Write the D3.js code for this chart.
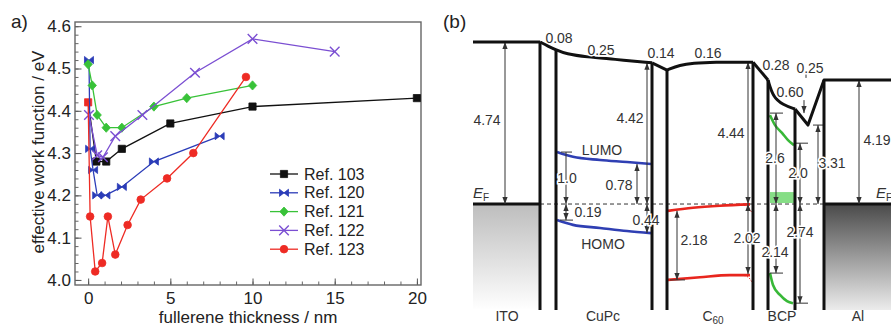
<!DOCTYPE html>
<html>
<head>
<meta charset="utf-8">
<script src="https://cdn.jsdelivr.net/npm/d3@7"></script>
<style>
body { margin: 0; background: #fff; }
svg { display: block; font-family: "Liberation Sans", Arial, sans-serif; }
</style>
</head>
<body>
<script>
// ---------- panel a data ----------
const refNames = ["Ref. 103", "Ref. 120", "Ref. 121", "Ref. 122", "Ref. 123"];
const refColors = ["#111111", "#2b3cb8", "#38c238", "#7b4fd2", "#ee2b24"];
const refShapes = ["square", "bowtie", "diamond", "cross", "circle"];

const ref103X = [0, 0.5, 1.1, 2.05, 5.0, 10, 20];
const ref103Y = [4.42, 4.28, 4.28, 4.31, 4.37, 4.41, 4.43];
const ref120X = [0.05, 0.12, 0.3, 0.55, 1.05, 2.05, 4.0, 8.0];
const ref120Y = [4.52, 4.31, 4.26, 4.20, 4.20, 4.22, 4.28, 4.34];
const ref121X = [0, 0.25, 0.55, 1.1, 2.05, 4.0, 6.0, 10];
const ref121Y = [4.51, 4.46, 4.39, 4.36, 4.36, 4.41, 4.43, 4.46];
const ref122X = [0.05, 0.55, 0.9, 1.65, 3.3, 6.5, 10, 15];
const ref122Y = [4.39, 4.295, 4.29, 4.34, 4.39, 4.49, 4.57, 4.54];
const ref123X = [0, 0.12, 0.43, 0.85, 1.2, 1.65, 2.4, 3.2, 4.8, 6.4, 9.6];
const ref123Y = [4.42, 4.15, 4.02, 4.04, 4.15, 4.06, 4.13, 4.19, 4.24, 4.30, 4.48];

const xTicks = [0, 5, 10, 15, 20];
const yTicks = [4.0, 4.1, 4.2, 4.3, 4.4, 4.5, 4.6];

// ---------- panel b data (schematic energies, E_F = 0) ----------
const layerNames = ["ITO", "CuPc", "C", "BCP", "Al"];
const layerCenters = [34, 130, 240, 309, 385];
const edgeX = [67, 83, 179, 194, 280, 295, 322, 351];
const edgeTop = [4.74, 4.51, 4.13, 3.92, 4.15, 3.63, 2.78, 3.63];
const vacuumSegs = [
    { smooth: false, pts: [[0, 4.74], [67, 4.74]] },
    { smooth: true, pts: [[67, 4.74], [75, 4.62], [83, 4.51], [93, 4.39], [114, 4.30], [140, 4.24], [179, 4.13]] },
    { smooth: false, pts: [[179, 4.13], [194, 3.92]] },
    { smooth: true, pts: [[194, 3.92], [207, 4.07], [220, 4.12], [240, 4.15], [280, 4.15]] },
    { smooth: false, pts: [[280, 4.15], [295, 3.63]] },
    { smooth: true, pts: [[295, 3.63], [300, 3.13], [310, 2.90], [322, 2.78]] },
    { smooth: false, pts: [[322, 2.78], [335, 2.31], [351, 3.63], [418, 3.63]] }
];
const cupcLumo = [[84, 1.52], [100, 1.38], [127, 1.29], [154, 1.23], [178, 1.17]];
const cupcHomo = [[84, -0.47], [100, -0.61], [127, -0.70], [154, -0.79], [178, -0.85]];
const c60Lumo = [[195, -0.2], [220, -0.11], [247, -0.05], [277, -0.01]];
const c60LumoTail = [[271, -0.03], [276, -0.12], [279, -0.26]];
const c60Homo = [[195, -2.22], [227, -2.14], [257, -2.08], [277, -2.08]];
const c60HomoTail = [[271, -2.09], [276, -2.16], [279, -2.28]];
const bcpUpper = [[297, 2.60], [302, 2.31], [309, 2.08], [315, 1.87], [321, 1.72]];
const bcpLower = [[297, -2.02], [300, -2.37], [307, -2.66], [314, -2.84], [320, -2.90]];

// arrows: x, from, to, heads (2 = both ends, 1 = end only)
const arrowX = [32, 174, 164, 174, 93, 93, 204, 275, 275, 303, 327, 303, 327, 345, 386, 331];
const arrowFrom = [4.74, 4.13, 1.17, 0, 1.52, 0, -0.2, 4.15, 0, 2.66, 1.78, 0, 0, 2.31, 3.63, 3.04];
const arrowTo = [0, 0, 0, -0.85, 0, -0.47, -2.22, 0, -2.05, 0, 0, -2.02, -2.90, 0, 0, 2.66];
const arrowHeads = [2, 2, 2, 2, 1, 2, 2, 2, 2, 2, 2, 2, 2, 2, 2, 1];
const barX1 = [88, 87, 197, 297, 322, 297, 322, 340];
const barX2 = [99, 100, 212, 310, 335, 310, 335, 351];
const barE = [1.52, -0.47, -2.22, 2.66, 1.78, -2.02, -2.90, 2.31];

const labelText = ["0.08", "0.25", "0.14", "0.16", "0.28", "0.25", "0.60", "4.74", "4.42", "LUMO", "1.0", "0.78",
    "0.19", "0.44", "HOMO", "4.44", "2.18", "2.02", "2.6", "2.0", "3.31", "2.14", "2.74", "4.19"];
const labelX = [86, 128, 188, 235, 303, 337, 317, 14, 157, 129, 94, 146,
    115, 173, 130, 258, 221, 274, 302, 325, 359, 302, 327, 404];
const labelE = [4.71, 4.36, 4.27, 4.27, 3.92, 3.83, 3.13, 2.31, 2.37, 1.43, 0.61, 0.41,
    -0.38, -0.61, -1.32, 1.93, -1.20, -1.14, 1.20, 0.76, 1.05, -1.55, -0.97, 1.73];

// ---------- svg ----------
const svg = d3.select("body").append("svg")
    .attr("width", 891)
    .attr("height", 327);

// ================= panel a =================
const x = d3.scaleLinear().domain([-0.8, 20.25]).range([75, 421]);
const y = d3.scaleLinear().domain([3.988, 4.61]).range([285, 22]);

svg.append("text").attr("x", 11).attr("y", 28)
    .style("font-size", "19px").attr("fill", "#222").text("a)");

// minor ticks
svg.append("g").attr("transform", "translate(0,285)")
    .call(d3.axisBottom(x).tickValues(d3.range(0, 21, 1)).tickSize(-3.5).tickFormat(""))
    .call(g => g.select(".domain").remove())
    .selectAll("line").attr("stroke", "#666");
svg.append("g").attr("transform", "translate(75,0)")
    .call(d3.axisLeft(y).tickValues(d3.range(4.0, 4.61, 0.02)).tickSize(-3.5).tickFormat(""))
    .call(g => g.select(".domain").remove())
    .selectAll("line").attr("stroke", "#666");

// major ticks
const xAxis = svg.append("g").attr("transform", "translate(0,285)")
    .call(d3.axisBottom(x).tickValues(xTicks).tickSize(-6.5).tickPadding(7))
    .call(g => g.select(".domain").remove());
xAxis.selectAll("line").attr("stroke", "#555");
xAxis.selectAll("text").style("font-size", "17px").attr("fill", "#222")
    .style("font-family", "'Liberation Sans', Arial, sans-serif");

const yAxis = svg.append("g").attr("transform", "translate(75,0)")
    .call(d3.axisLeft(y).tickValues(yTicks).tickSize(-6.5).tickPadding(4).tickFormat(d3.format(".1f")))
    .call(g => g.select(".domain").remove());
yAxis.selectAll("line").attr("stroke", "#555");
yAxis.selectAll("text").style("font-size", "17px").attr("fill", "#222")
    .style("font-family", "'Liberation Sans', Arial, sans-serif");

// frame
svg.append("rect")
    .attr("x", x(-0.8)).attr("y", y(4.61))
    .attr("width", x(20.25) - x(-0.8)).attr("height", y(3.988) - y(4.61))
    .attr("fill", "none").attr("stroke", "#666").attr("stroke-width", 1.4);

// axis titles
svg.append("text").attr("x", 248).attr("y", 323).attr("text-anchor", "middle")
    .style("font-size", "17px").attr("fill", "#222").text("fullerene thickness / nm");
svg.append("text").attr("transform", "translate(44,152) rotate(-90)").attr("text-anchor", "middle")
    .style("font-size", "17px").attr("fill", "#222").text("effective work function / eV");

const shapePath = {
    square: "M-3.6,-3.6h7.2v7.2h-7.2z",
    diamond: "M0,-4.6L4.2,0L0,4.6L-4.2,0Z",
    bowtie: "M-4.5,-3.6L4.5,3.6L4.5,-3.6L-4.5,3.6Z",
    cross: "M-4.8,-4.8L4.8,4.8M-4.8,4.8L4.8,-4.8",
    circle: d3.symbol(d3.symbolCircle, 46)()
};

const seriesX = [ref103X, ref120X, ref121X, ref122X, ref123X];
const seriesY = [ref103Y, ref120Y, ref121Y, ref122Y, ref123Y];
const line = d3.line().x(d => x(d[0])).y(d => y(d[1]));

refNames.forEach((name, i) => {
    const pts = seriesX[i].map((v, j) => [v, seriesY[i][j]]);
    const col = refColors[i];
    svg.append("path").datum(pts)
        .attr("d", line)
        .attr("fill", "none").attr("stroke", col).attr("stroke-width", 1.3);
    // the shared start point of Ref. 103 / Ref. 123 is shown as a red square
    const shown = i === 4 ? pts.slice(1) : pts;
    svg.append("g").selectAll("path")
        .data(shown)
        .join("path")
        .attr("transform", d => `translate(${x(d[0])},${y(d[1])})`)
        .attr("d", shapePath[refShapes[i]])
        .attr("fill", (d, j) => refShapes[i] === "cross" ? "none" : (i === 0 && j === 0 ? refColors[4] : col))
        .attr("stroke", (d, j) => i === 0 && j === 0 ? refColors[4] : col)
        .attr("stroke-width", refShapes[i] === "cross" ? 1.4 : 0.8);
});

// legend
const legend = svg.append("g");
refNames.forEach((name, i) => {
    const ly = 174 + i * 18.8;
    legend.append("line").attr("x1", 270).attr("x2", 298).attr("y1", ly).attr("y2", ly)
        .attr("stroke", refColors[i]).attr("stroke-width", 1.3);
    legend.append("path").attr("transform", `translate(284,${ly})`)
        .attr("d", shapePath[refShapes[i]])
        .attr("fill", refShapes[i] === "cross" ? "none" : refColors[i])
        .attr("stroke", refColors[i]).attr("stroke-width", refShapes[i] === "cross" ? 1.4 : 0.8);
    legend.append("text").attr("x", 304).attr("y", ly + 5.5)
        .style("font-size", "16px").attr("fill", "#222").text(name);
});

// ================= panel b =================
const bx = d3.scaleLinear().domain([0, 418]).range([473, 891]);
const by = d3.scaleLinear().domain([-3.1, 4.74]).range([310, 42]);
const bLine = d3.line().x(d => bx(d[0])).y(d => by(d[1]));
const bSmooth = d3.line().x(d => bx(d[0])).y(d => by(d[1])).curve(d3.curveMonotoneX);
const bBasis = d3.line().x(d => bx(d[0])).y(d => by(d[1])).curve(d3.curveBasis);

svg.append("text").attr("x", 443).attr("y", 28)
    .style("font-size", "19px").attr("fill", "#222").text("(b)");

const defs = svg.append("defs");
const gITO = defs.append("linearGradient").attr("id", "gITO").attr("x1", 0).attr("y1", 0).attr("x2", 0).attr("y2", 1);
gITO.append("stop").attr("offset", "0%").attr("stop-color", "#bdbdbd");
gITO.append("stop").attr("offset", "100%").attr("stop-color", "#ffffff");
const gAl = defs.append("linearGradient").attr("id", "gAl").attr("x1", 0).attr("y1", 0).attr("x2", 0).attr("y2", 1);
gAl.append("stop").attr("offset", "0%").attr("stop-color", "#4a4a4a");
gAl.append("stop").attr("offset", "100%").attr("stop-color", "#ececec");
defs.append("marker").attr("id", "ah").attr("viewBox", "0 0 8 6")
    .attr("refX", 8).attr("refY", 3).attr("markerWidth", 7).attr("markerHeight", 5.5)
    .attr("markerUnits", "userSpaceOnUse").attr("orient", "auto-start-reverse")
    .append("path").attr("d", "M0,0L8,3L0,6Z").attr("fill", "#333");

// electrodes below E_F
svg.append("rect").attr("x", bx(0)).attr("y", by(0)).attr("width", bx(67) - bx(0))
    .attr("height", by(-3.1) - by(0)).attr("fill", "url(#gITO)");
svg.append("rect").attr("x", bx(351)).attr("y", by(0)).attr("width", bx(418) - bx(351))
    .attr("height", by(-3.1) - by(0)).attr("fill", "url(#gAl)");

// green region in BCP
svg.append("rect").attr("x", bx(297)).attr("y", by(0.35)).attr("width", bx(322) - bx(297))
    .attr("height", by(0.03) - by(0.35)).attr("fill", "#86de86");

// Fermi level
svg.append("line").attr("x1", bx(67)).attr("x2", bx(351)).attr("y1", by(0)).attr("y2", by(0))
    .attr("stroke", "#333").attr("stroke-width", 1).attr("stroke-dasharray", "4,3");
svg.append("path").datum([[0, 0], [67, 0]]).attr("d", bLine)
    .attr("stroke", "#111").attr("stroke-width", 3).attr("fill", "none");
svg.append("path").datum([[351, 0], [418, 0]]).attr("d", bLine)
    .attr("stroke", "#111").attr("stroke-width", 3).attr("fill", "none");

// molecular levels
[[cupcLumo, "#2f3fb3"], [cupcHomo, "#2f3fb3"], [c60Lumo, "#e8261e"], [c60Homo, "#e8261e"],
 [bcpUpper, "#38b838"], [bcpLower, "#38b838"]].forEach(([pts, col]) => {
    svg.append("path").datum(pts).attr("d", bSmooth)
        .attr("fill", "none").attr("stroke", col).attr("stroke-width", 2.6);
});
[c60LumoTail, c60HomoTail].forEach(pts => {
    svg.append("path").datum(pts).attr("d", bSmooth)
        .attr("fill", "none").attr("stroke", "#e8261e").attr("stroke-width", 1)
        .attr("stroke-dasharray", "1.5,1.5");
});

// thin arrows and bars
arrowX.forEach((ax, i) => {
    svg.append("line")
        .attr("x1", bx(ax)).attr("x2", bx(ax))
        .attr("y1", by(arrowFrom[i])).attr("y2", by(arrowTo[i]))
        .attr("stroke", "#333").attr("stroke-width", 1)
        .attr("marker-end", "url(#ah)")
        .attr("marker-start", arrowHeads[i] === 2 ? "url(#ah)" : null);
});
barE.forEach((e, i) => {
    svg.append("line").attr("x1", bx(barX1[i])).attr("x2", bx(barX2[i]))
        .attr("y1", by(e)).attr("y2", by(e)).attr("stroke", "#333").attr("stroke-width", 1);
});
svg.append("line").attr("x1", bx(333)).attr("x2", bx(333)).attr("y1", by(3.86)).attr("y2", by(3.69))
    .attr("stroke", "#333").attr("stroke-width", 1);

// layer edges
edgeX.forEach((ex, i) => {
    svg.append("line").attr("x1", bx(ex)).attr("x2", bx(ex))
        .attr("y1", by(edgeTop[i])).attr("y2", by(-3.1))
        .attr("stroke", "#111").attr("stroke-width", 3);
});

// vacuum level
vacuumSegs.forEach(s => {
    svg.append("path").datum(s.pts).attr("d", s.smooth ? bBasis : bLine)
        .attr("fill", "none").attr("stroke", "#111").attr("stroke-width", 3)
        .attr("stroke-linejoin", "round");
});

// value labels
svg.append("g").selectAll("text")
    .data(labelText)
    .join("text")
    .attr("x", (d, i) => bx(labelX[i]))
    .attr("y", (d, i) => by(labelE[i]))
    .attr("text-anchor", "middle")
    .style("font-size", "14px")
    .attr("fill", "#333")
    .attr("stroke", (d, i) => i === 0 ? "none" : "#fff")
    .attr("stroke-width", 3)
    .attr("paint-order", "stroke")
    .text(d => d);

// E_F labels
[0, 403].forEach(ex => {
    const t = svg.append("text").attr("x", bx(ex)).attr("y", by(0.18))
        .style("font-size", "15px").attr("fill", "#333");
    t.append("tspan").style("font-style", "italic").text("E");
    t.append("tspan").attr("dy", 3).style("font-size", "10px").text("F");
});

// layer names
layerNames.forEach((n, i) => {
    const t = svg.append("text").attr("x", bx(layerCenters[i])).attr("y", 321)
        .attr("text-anchor", "middle").style("font-size", "14px").attr("fill", "#333");
    t.append("tspan").text(n);
    if (n === "C") t.append("tspan").attr("dy", 3).style("font-size", "10px").text("60");
});
</script>
</body>
</html>
